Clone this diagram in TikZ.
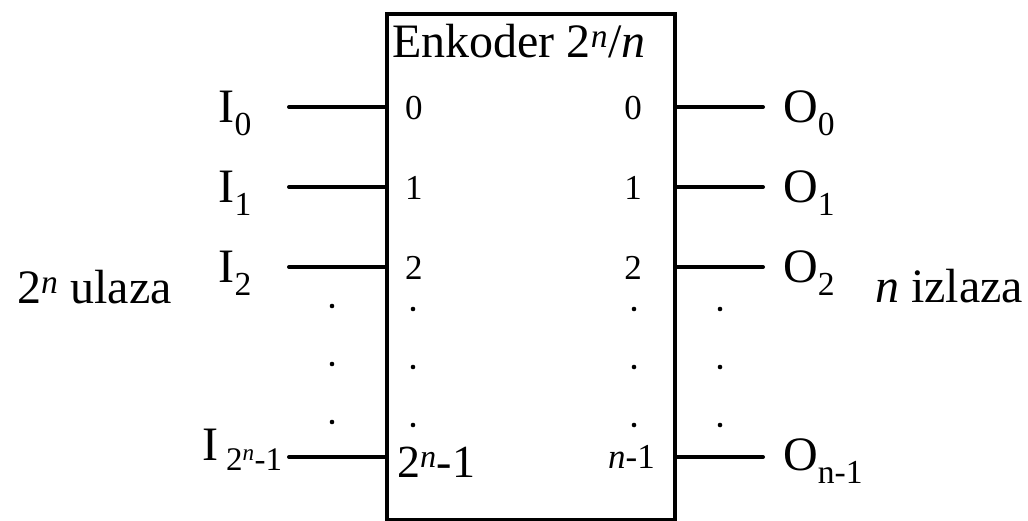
\documentclass[tikz,border=0pt]{standalone}
\usepackage{fontspec}
\setmainfont{Liberation Serif}
\usetikzlibrary{positioning}
\newcommand{\fsz}[1]{\fontsize{#1}{#1}\selectfont}

\begin{document}
\begin{tikzpicture}[x=1pt,y=-1pt,
  pin/.style={line width=4pt,line cap=round},
  lbl/.style={inner sep=0pt,font=\fsz{48}},
  num/.style={inner sep=0pt,font=\fsz{35}},
  txt/.style={inner sep=0pt,font=\fsz{48}},
  dot/.style={fill=black}]
\useasboundingbox (0,0) rectangle (1028,520);
% encoder block
\node[draw,line width=4pt,inner sep=0pt,minimum width=288pt,minimum height=506pt,anchor=north west] (enc) at (385,12) {};
\node[txt,anchor=base west] (title) at (392,57) {Enkoder 2\textsuperscript{\textit{n}}/\textit{n}};
% inputs and outputs
\foreach \k/\y in {0/107,1/187,2/267}{
  \coordinate (in\k) at (289,\y);
  \coordinate (out\k) at (763,\y);
  \draw[pin] (in\k) -- (in\k -| enc.west);
  \draw[pin] (out\k -| enc.east) -- (out\k);
  \node[lbl,anchor=base east] (I\k) at (252,\y+15) {I\textsubscript{\k}};
  \node[lbl,anchor=base west] (O\k) at (783,\y+15) {O\textsubscript{\k}};
  \node[num,anchor=base west] (pi\k) at (405,\y+12) {\k};
  \node[num,anchor=base east] (po\k) at (642,\y+12) {\k};
}
\coordinate (inl) at (289,457);
\coordinate (outl) at (763,457);
\draw[pin] (inl) -- (inl -| enc.west);
\draw[pin] (outl -| enc.east) -- (outl);
\node[lbl,anchor=base west] (Il) at (202,460) {I\hspace{8pt}{\fsz{33}\raisebox{-10pt}{2\textsuperscript{\textit{n}}-1}}};
\node[lbl,anchor=base west] (Ol) at (783,470) {O\textsubscript{n-1}};
\node[lbl,anchor=base west,font=\fsz{46}] (pil) at (397,477) {2\textsuperscript{\textit{n}}-1};
\node[num,anchor=base east] (pol) at (655,468) {\textit{n}-1};
% dots
\foreach \y in {306,364,422}{
  \fill[dot] (332,\y) circle (2.3);
  \fill[dot] (413,\y+3) circle (2.3);
  \fill[dot] (634,\y+3) circle (2.3);
  \fill[dot] (720,\y+3) circle (2.3);
}
% side labels
\node[txt,anchor=base west] (ins) at (17,303) {2\textsuperscript{\textit{n}} ulaza};
\node[txt,anchor=base west] (outs) at (875,302) {\textit{n} izlaza};
\end{tikzpicture}
\end{document}
